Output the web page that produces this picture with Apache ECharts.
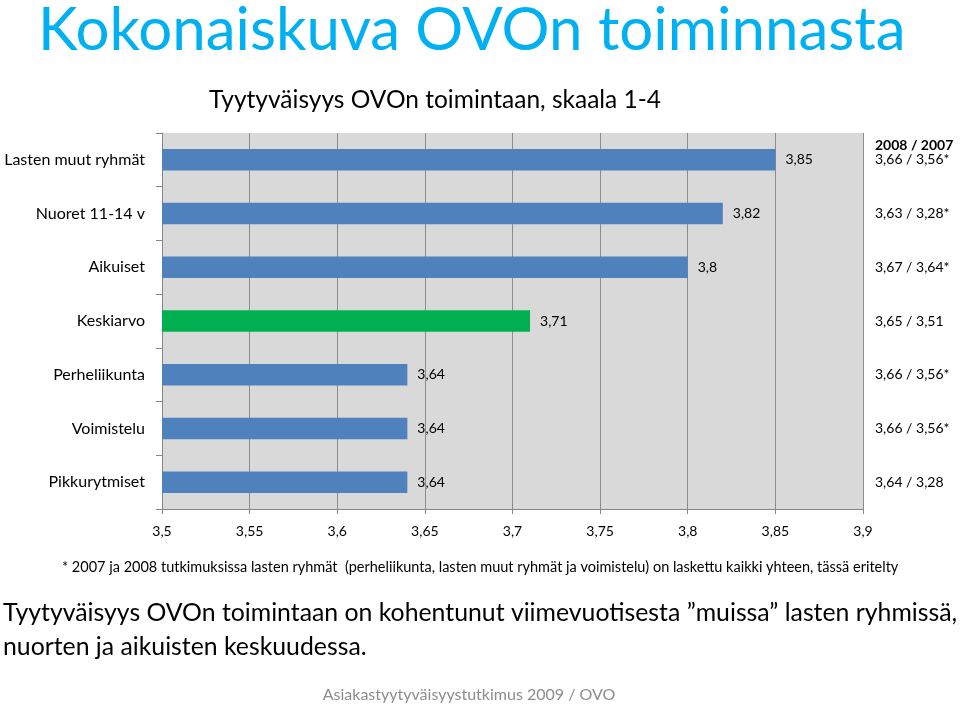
<!DOCTYPE html>
<html lang="fi">
<head>
    <meta charset="UTF-8">
    <title>Kokonaiskuva OVOn toiminnasta</title>
    <script src="https://cdn.jsdelivr.net/npm/echarts@6/dist/echarts.min.js"></script>
    <style>
        html, body { margin: 0; padding: 0; background: #fff; }
        #chart1 { width: 960px; height: 708px; }
    </style>
</head>
<body>
    <div id="chart1"></div>
    <script type="text/javascript">
        // data
        var categories = ['Lasten muut ryhmät', 'Nuoret 11-14 v', 'Aikuiset', 'Keskiarvo', 'Perheliikunta', 'Voimistelu', 'Pikkurytmiset'];
        var values2009 = [3.85, 3.82, 3.8, 3.71, 3.64, 3.64, 3.64];
        var earlierYears = ['3,66 / 3,56*', '3,63 / 3,28*', '3,67 / 3,64*', '3,65 / 3,51', '3,66 / 3,56*', '3,66 / 3,56*', '3,64 / 3,28'];
        var xTicks = ['3,5', '3,55', '3,6', '3,65', '3,7', '3,75', '3,8', '3,85', '3,9'];

        var font = 'Lato, "Open Sans", sans-serif';
        var chart1 = echarts.init(document.getElementById('chart1'));

        var option = {
            backgroundColor: '#ffffff',
            textStyle: { fontFamily: font },
            grid: {
                left: 162,
                right: 97,
                top: 133,
                bottom: 199,
                outerBoundsMode: 'none',
                show: true,
                backgroundColor: '#d9d9d9',
                borderWidth: 0
            },
            xAxis: {
                type: 'value',
                min: 3.5,
                max: 3.9,
                interval: 0.05,
                axisLine: { show: true, lineStyle: { color: '#868686', width: 1 } },
                axisTick: { show: true, length: 5, lineStyle: { color: '#868686' } },
                splitLine: { show: true, lineStyle: { color: '#8c8c8c', width: 1 } },
                axisLabel: {
                    color: '#000',
                    fontSize: 14,
                    fontFamily: font,
                    margin: 15,
                    formatter: function (v, i) { return xTicks[i]; }
                }
            },
            yAxis: [{
                type: 'category',
                inverse: true,
                data: categories,
                axisLine: { show: true, lineStyle: { color: '#868686' } },
                axisTick: { show: true, length: 6, lineStyle: { color: '#868686' } },
                axisLabel: { color: '#000', fontSize: 16, fontFamily: font, margin: 17 }
            }, {
                type: 'category',
                inverse: true,
                position: 'right',
                data: categories,
                axisLine: { show: false },
                axisTick: { show: false },
                axisLabel: {
                    color: '#000',
                    fontSize: 14,
                    fontFamily: font,
                    margin: 12,
                    align: 'left',
                    formatter: function (v, i) { return earlierYears[i]; }
                }
            }],
            series: [{
                name: 'Tyytyväisyys 2009',
                type: 'bar',
                data: values2009,
                barWidth: '40%',
                itemStyle: {
                    color: function (p) {
                        return categories[p.dataIndex] === 'Keskiarvo' ? '#00b050' : '#4f81bd';
                    }
                },
                label: {
                    show: true,
                    position: 'right',
                    distance: 10,
                    color: '#000',
                    fontSize: 14,
                    fontFamily: font,
                    formatter: function (p) { return String(p.value).replace('.', ','); }
                },
                animation: false
            }],
            graphic: [{
                type: 'text', x: 38, y: 31,
                style: { text: 'Kokonaiskuva OVOn toiminnasta', font: '60px ' + font, fill: '#00b0f0', textVerticalAlign: 'middle' }
            }, {
                type: 'text', x: 435, y: 100,
                style: { text: 'Tyytyväisyys OVOn toimintaan, skaala 1-4', font: '24.5px ' + font, fill: '#000', textAlign: 'center', textVerticalAlign: 'middle' }
            }, {
                type: 'text', x: 875, y: 145,
                style: { text: '2008 / 2007', font: 'bold 14px ' + font, fill: '#000', textVerticalAlign: 'middle' }
            }, {
                type: 'text', x: 62, y: 567,
                style: { text: '* 2007 ja 2008 tutkimuksissa lasten ryhmät  (perheliikunta, lasten muut ryhmät ja voimistelu) on laskettu kaikki yhteen, tässä eritelty', font: '14.5px ' + font, fill: '#000', textVerticalAlign: 'middle' }
            }, {
                type: 'text', x: 3, y: 613,
                style: { text: 'Tyytyväisyys OVOn toimintaan on kohentunut viimevuotisesta ”muissa” lasten ryhmissä,', font: '24.8px ' + font, fill: '#000', textVerticalAlign: 'middle' }
            }, {
                type: 'text', x: 3, y: 647,
                style: { text: 'nuorten ja aikuisten keskuudessa.', font: '24.8px ' + font, fill: '#000', textVerticalAlign: 'middle' }
            }, {
                type: 'text', x: 469, y: 695,
                style: { text: 'Asiakastyytyväisyystutkimus 2009 / OVO', font: '16px ' + font, fill: '#8c8c8c', textAlign: 'center', textVerticalAlign: 'middle' }
            }]
        };

        chart1.setOption(option);
    </script>
</body>
</html>
